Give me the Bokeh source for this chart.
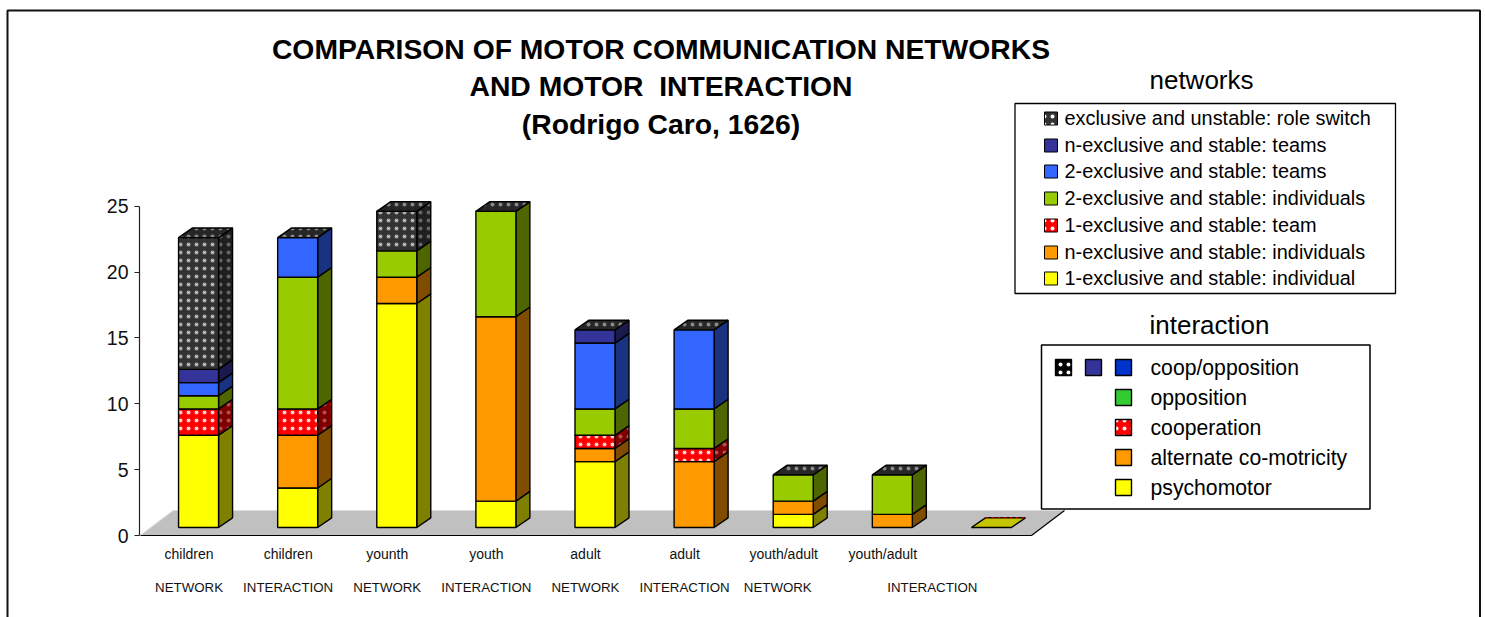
from bokeh.plotting import figure
from bokeh.embed import file_html
from bokeh.resources import INLINE
from bokeh.core.properties import value
from bokeh.models import FixedTicker, LinearAxis, BoxAnnotation, Range1d

age_labels = ["children", "children", "younth", "youth", "adult", "adult", "youth/adult", "youth/adult", " "]
role_labels = ["NETWORK", "INTERACTION", "NETWORK", "INTERACTION", "NETWORK", "INTERACTION", "NETWORK", "INTERACTION"]
role_ticks = [0, 1, 2, 3, 4, 5, 5.94, 7.5]
y_ticks = [0, 5, 10, 15, 20, 25]

individual_1 = [7, 3, 17, 2, 5, 0, 1, 0, 0]
individuals_n = [0, 4, 2, 14, 1, 5, 1, 1, 0]
team_1 = [2, 2, 0, 0, 1, 1, 0, 0, 0]
individuals_2 = [1, 10, 2, 8, 2, 3, 2, 3, 0]
teams_2 = [1, 3, 0, 0, 5, 6, 0, 0, 0]
teams_n = [1, 0, 0, 0, 1, 0, 0, 0, 0]
role_switch = [10, 0, 3, 0, 0, 0, 0, 0, 0]

series_values = [individual_1, individuals_n, team_1, individuals_2, teams_2, teams_n, role_switch]
face_colors = ["#FFFF00", "#FF9900", "#FF0000", "#99CC00", "#3366FF", "#333399", "#333333"]
side_colors = ["#808000", "#7F4C00", "#800000", "#4D6600", "#1A3380", "#1A1A4D", "#1F1F1F"]
dotted = [False, False, True, False, False, False, True]

title_lines = ["COMPARISON OF MOTOR COMMUNICATION NETWORKS", "AND MOTOR\u00a0 INTERACTION", "(Rodrigo Caro, 1626)"]
network_names = ["exclusive and unstable: role switch", "n-exclusive and stable: teams", "2-exclusive and stable: teams",
                 "2-exclusive and stable: individuals", "1-exclusive and stable: team", "n-exclusive and stable: individuals",
                 "1-exclusive and stable: individual"]
network_colors = ["#333333", "#333399", "#3366FF", "#99CC00", "#FF0000", "#FF9900", "#FFFF00"]
network_dots = [True, False, False, False, True, False, False]
interaction_names = ["coop/opposition", "opposition", "cooperation", "alternate co-motricity", "psychomotor"]
interaction_colors = ["#0033CC", "#33CC33", "#FF0000", "#FF9900", "#FFFF00"]

FONT = value("Liberation Sans")
W, H = 1485, 617
PXX, PXY = 99.11, 13.175      # pixels per category slot / per value unit
AXIS_PX, ZERO_PY = 139, 535   # where the value axis and the zero line fall on the page

def X(px):
    return -0.5 + (px - AXIS_PX) / PXX

def Y(py):
    return (ZERO_PY - py) / PXY

p = figure(width=W, height=H, x_range=Range1d(X(0), X(W)), y_range=Range1d(Y(H), Y(0)),
           output_backend="svg", toolbar_location=None, tools="",
           min_border_left=0, min_border_right=0, min_border_top=0, min_border_bottom=0)
p.outline_line_color = None
p.grid.visible = False
p.background_fill_color = "white"
p.border_fill_color = "white"

ya = p.yaxis[0]
ya.fixed_location = X(AXIS_PX)
ya.ticker = FixedTicker(ticks=y_ticks)
ya.bounds = (0, 25)
ya.major_label_text_font = "Liberation Sans"
ya.major_label_text_font_size = "19.5px"
ya.major_label_text_color = "#111111"
ya.major_tick_in = 0
ya.major_tick_out = 5
ya.minor_tick_line_color = None
ya.axis_line_color = "#222222"
ya.major_tick_line_color = "#222222"
ya.axis_line_width = 1.2
ya.major_label_standoff = 6

xa = p.xaxis[0]
xa.fixed_location = 0
xa.ticker = FixedTicker(ticks=list(range(len(age_labels))))
xa.major_label_overrides = {i: t for i, t in enumerate(age_labels)}
xa.major_label_text_font = "Liberation Sans"
xa.major_label_text_font_size = "14px"
xa.major_label_text_color = "#111111"
xa.major_tick_line_color = None
xa.minor_tick_line_color = None
xa.axis_line_color = None
xa.major_label_standoff = 4

xb = LinearAxis(fixed_location=Y(568), ticker=FixedTicker(ticks=role_ticks),
                major_label_overrides={t: s for t, s in zip(role_ticks, role_labels)},
                major_label_text_font="Liberation Sans", major_label_text_font_size="13.3px",
                major_label_text_color="#111111", major_tick_line_color=None, minor_tick_line_color=None,
                axis_line_color=None, major_label_standoff=5)
p.add_layout(xb, "below")

# chart area border (open at the bottom of the page)
p.add_layout(BoxAnnotation(left=X(7), right=X(1479.5), top=Y(10), bottom=Y(700),
                           fill_alpha=0, line_color="#111111", line_alpha=1, line_width=2, level="underlay"))

# floor of the 3-D box
SLOTS = len(age_labels)
FLOOR_DX, FLOOR_DY = 33 / PXX, 25 / PXY
floor_l, floor_r = -0.5, -0.5 + SLOTS
p.patch([floor_l, floor_r, floor_r + FLOOR_DX, floor_l + FLOOR_DX], [0, 0, FLOOR_DY, FLOOR_DY],
        fill_color="#C0C0C0", line_color=None)
p.multi_line([[floor_l, floor_r, floor_r + FLOOR_DX], [floor_l, floor_l + FLOOR_DX]],
             [[0, 0, FLOOR_DY], [0, FLOOR_DY]], line_color=["#000000", "#EEEEEE"], line_width=1.2)

# bars
BAR_W = 40 / PXX
FRONT_DX, BASE = 9.5 / PXX, 8 / PXY
DEPTH_X, DEPTH_Y = 14 / PXX, 9.7 / PXY
EDGE = dict(line_color="#000000", line_width=1.4)

def dots(flag, color="#BBBBBB", weight=0.8):
    return dict(hatch_pattern="dot", hatch_color=color, hatch_scale=8, hatch_weight=weight) if flag else {}

tops = [0.0] * SLOTS
for vals, face, side, d, dot_color in zip(series_values, face_colors, side_colors, dotted,
                                          ["#FFFFFF", "#FFFFFF", "#FFD0D0", "#FFFFFF", "#FFFFFF", "#FFFFFF", "#B0B0B0"]):
    l, r, b, t, sx, sy = [], [], [], [], [], []
    for i, v in enumerate(vals):
        base = tops[i]
        tops[i] = base + v
        if v == 0:
            continue
        left = i + FRONT_DX - BAR_W / 2
        right = left + BAR_W
        bottom = BASE + base
        top = bottom + v
        l.append(left); r.append(right); b.append(bottom); t.append(top)
        sx.append([right, right + DEPTH_X, right + DEPTH_X, right])
        sy.append([bottom, bottom + DEPTH_Y, top + DEPTH_Y, top])
    p.patches(sx, sy, fill_color=side, **EDGE, **dots(d, "#666666" if face == "#333333" else "#B05050"))
    p.quad(left=l, right=r, bottom=b, top=t, fill_color=face, **EDGE, **dots(d, dot_color))

# top caps
cap_x, cap_y = [], []
for i, total in enumerate(tops):
    left = i + FRONT_DX - BAR_W / 2
    right = left + BAR_W
    top = BASE + total
    cap_x.append([left, right, right + DEPTH_X, left + DEPTH_X])
    cap_y.append([top, top, top + DEPTH_Y, top + DEPTH_Y])
p.patches(cap_x[:-1], cap_y[:-1], fill_color="#262626", **EDGE, **dots(True, "#888888"))
p.patches(cap_x[-1:], cap_y[-1:], fill_color="#C4C400", **EDGE)
p.line([cap_x[-1][3], cap_x[-1][2]], [cap_y[-1][3], cap_y[-1][2]], line_color="#FF0000", line_dash="3 3", line_width=1)

def texts(xs, ys, labels, size, align="center", bold=False):
    p.text(xs, ys, text=labels, text_font=FONT, text_font_size=size, text_align=align,
           text_baseline="middle", text_color="#000000", text_font_style="bold" if bold else "normal")

# title
texts([X(660.5)] * 3, [Y(48.5), Y(85), Y(123)], title_lines, "28.3px", bold=True)

# networks legend
texts([X(1201)], [Y(79)], ["networks"], "26px")
p.quad(left=[X(1014.5)], right=[X(1395)], top=[Y(103)], bottom=[Y(293)], fill_color="white", line_color="#000000", line_width=1.3)
rows1 = [118, 145, 171, 198, 225, 252, 278]
for r, c, d in zip(rows1, network_colors, network_dots):
    p.quad(left=[X(1044)], right=[X(1057)], top=[Y(r - 6.5)], bottom=[Y(r + 6.5)], fill_color=c, line_color="#000000",
           line_width=1, **dots(d, "#FFFFFF", 0.6))
texts([X(1064)] * 7, [Y(r - 1) for r in rows1], network_names, "19.9px", align="left")

# interaction legend
texts([X(1209)], [Y(324)], ["interaction"], "26px")
p.quad(left=[X(1041)], right=[X(1369.5)], top=[Y(344.5)], bottom=[Y(508.5)], fill_color="white", line_color="#000000", line_width=1.5)
rows2 = [367, 397, 427, 457, 487]
for r, c in zip(rows2, interaction_colors):
    p.quad(left=[X(1115)], right=[X(1131)], top=[Y(r - 8)], bottom=[Y(r + 8)], fill_color=c, line_color="#000000",
           line_width=1.4, **dots(c == "#FF0000", "#FFFFFF", 0.6))
p.quad(left=[X(1085)], right=[X(1101)], top=[Y(359)], bottom=[Y(375)], fill_color="#333399", line_color="#000000", line_width=1.4)
p.quad(left=[X(1055)], right=[X(1071)], top=[Y(359)], bottom=[Y(375)], fill_color="#000000", line_color="#000000", line_width=1.4,
       **dots(True, "#FFFFFF", 0.6))
texts([X(1150)] * 5, [Y(r - 0.5) for r in rows2], interaction_names, "21.2px", align="left")

open("out.html", "w").write(file_html(p, INLINE))
